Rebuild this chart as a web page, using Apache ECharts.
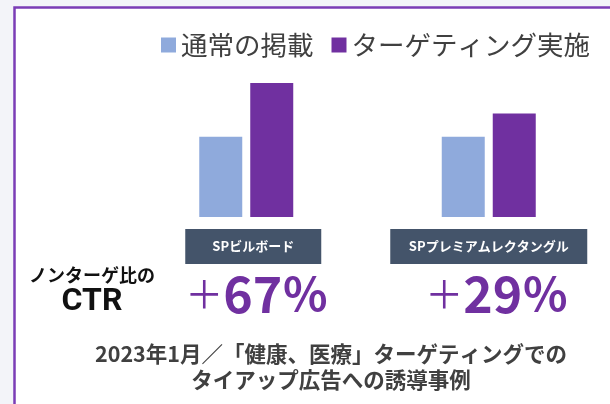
<!DOCTYPE html>
<html><head><meta charset="utf-8">
<script src="https://cdn.jsdelivr.net/npm/echarts@6/dist/echarts.min.js"></script>
<style>html,body{margin:0;padding:0;background:#f3f4f9;}#c{width:610px;height:404px;}</style>
</head><body><div id="c"></div>
<script>
const categories = ['SPビルボード', 'SPプレミアムレクタングル'];
const seriesNames = ['通常の掲載', 'ターゲティング実施'];
const normalValues = [100, 100];
const targetValues = [167, 129];
const liftLabels = ['67', '29'];
const sideLabel = ['ノンターゲ比の', 'CTR'];
const footnote = ['2023年1月／「健康、医療」ターゲティングでの', 'タイアップ広告への誘導事例'];

const JP = '"Noto Sans CJK JP", "Noto Sans", sans-serif';
const PURPLE = '#7030a0';
const BLUE = '#8faadc';

const chart = echarts.init(document.getElementById('c'), null, {renderer: 'canvas'});
chart.setOption({
  backgroundColor: '#f3f4f9',
  animation: false,
  graphic: [
    {type: 'rect', z: -10, silent: true, shape: {x: 14.5, y: 7.5, width: 700, height: 500},
     style: {fill: '#ffffff', stroke: '#7b3db6', lineWidth: 2.5}},
    {type: 'text', x: 92, y: 275, style: {text: sideLabel[0], align: 'center', verticalAlign: 'middle', textAlign: 'center', textVerticalAlign: 'middle', font: 'bold 18px ' + JP, fill: '#111'}},
    {type: 'text', x: 92, y: 302, style: {text: sideLabel[1], align: 'center', verticalAlign: 'middle', textAlign: 'center', textVerticalAlign: 'middle', font: 'bold 32px Roboto, ' + JP, fill: '#111'}},
    {type: 'text', x: 331, y: 354, style: {text: footnote[0], align: 'center', verticalAlign: 'middle', textAlign: 'center', textVerticalAlign: 'middle', font: 'bold 21.5px ' + JP, fill: '#404040'}},
    {type: 'text', x: 331, y: 380, style: {text: footnote[1], align: 'center', verticalAlign: 'middle', textAlign: 'center', textVerticalAlign: 'middle', font: 'bold 21.5px ' + JP, fill: '#404040'}}
  ],
  legend: {
    data: seriesNames,
    left: 161, top: 30, padding: 0,
    icon: 'rect', itemWidth: 15, itemHeight: 15, itemGap: 18,
    textStyle: {fontSize: 26.5, color: '#404040', fontFamily: JP, lineHeight: 30}
  },
  grid: {left: 125, width: 488, top: 217 - 160.6, height: 160.6, containLabel: false},
  xAxis: {
    type: 'category', data: categories,
    axisLine: {show: false}, axisTick: {show: false}, splitLine: {show: false},
    axisLabel: {
      interval: 0, margin: 12,
      formatter: (v, i) => `{s${i}a|}{b${i}|${v}}\n{s${i}b|}{p|＋}{n|${liftLabels[i]}}{q|％}`,
      rich: {
        s0a: {width: 14, height: 1}, s1a: {width: 0, height: 1},
        s0b: {width: 21, height: 1}, s1b: {width: 16, height: 1},
        b0: {width: 136, height: 35, lineHeight: 35, backgroundColor: '#44546a', color: '#fff', fontSize: 13, fontWeight: 'bold', fontFamily: JP, align: 'center'},
        b1: {width: 197, height: 35, lineHeight: 35, backgroundColor: '#44546a', color: '#fff', fontSize: 13, fontWeight: 'bold', fontFamily: JP, align: 'center'},
        p: {fontSize: 38, color: PURPLE, fontFamily: JP, lineHeight: 60},
        n: {fontSize: 50, fontWeight: 'bold', color: PURPLE, fontFamily: JP, lineHeight: 60},
        q: {fontSize: 46, fontWeight: 'bold', color: PURPLE, fontFamily: JP, lineHeight: 60}
      }
    }
  },
  yAxis: {type: 'value', min: 0, max: 200, show: false, splitLine: {show: false}},
  series: [
    {name: seriesNames[0], type: 'bar', data: normalValues, barWidth: 43, barGap: '18.6%', itemStyle: {color: BLUE}},
    {name: seriesNames[1], type: 'bar', data: targetValues, barWidth: 43, barGap: '18.6%', itemStyle: {color: PURPLE}}
  ]
});
</script></body></html>
